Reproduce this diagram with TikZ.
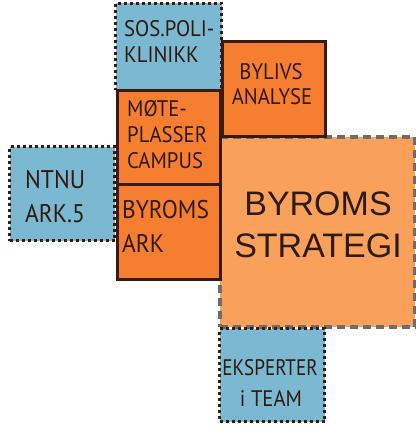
\documentclass[tikz,border=0pt]{standalone}
\usepackage{fontspec}
\setmainfont[FakeStretch=0.92]{PT Sans}
\newfontfamily\bigfont{Liberation Sans}
\definecolor{bluefill}{HTML}{7BB8D1}
\definecolor{orangefill}{HTML}{F57E30}
\definecolor{lightorange}{HTML}{F9A05B}
\definecolor{darkline}{HTML}{3A1A0A}
\definecolor{grayline}{HTML}{6E6B69}
\definecolor{txt}{HTML}{2E1A0E}
\tikzset{
  boxbase/.style={rectangle, inner sep=0pt, anchor=north west},
  bluebox/.style={boxbase, fill=bluefill, draw=darkline, line width=3pt, dash pattern=on 3pt off 3pt},
  orangebox/.style={boxbase, fill=orangefill, draw=darkline, line width=3pt},
  stratbox/.style={boxbase, fill=lightorange, draw=grayline, line width=4pt, dash pattern=on 8pt off 5pt},
  smalltxt/.style={inner sep=0pt, text=txt, font=\fontsize{22.5}{26}\selectfont},
  midtxt/.style={inner sep=0pt, text=txt, font=\fontsize{25.5}{30}\selectfont},
  bigtxt/.style={inner sep=0pt, text=txt, font=\bigfont\fontsize{34}{40}\selectfont},
}
\begin{document}
\begin{tikzpicture}[x=1pt,y=-1pt]
\useasboundingbox (0,0) rectangle (415,425);
% big strategy box
\node[stratbox, minimum width=195pt, minimum height=190pt] (strat) at (218,135) {};
% blue boxes
\node[bluebox, minimum width=106pt, minimum height=87pt] (sos) at (114,2) {};
\node[bluebox, minimum width=105pt, minimum height=94pt] (ntnu) at (8,145) {};
\node[bluebox, minimum width=105pt, minimum height=93pt] (eks) at (218,327) {};
% orange boxes
\node[orangebox, minimum width=103pt, minimum height=95pt] (byliv) at (221,40) {};
\node[orangebox, minimum width=103pt, minimum height=94pt] (mote) at (116,89) {};
\node[orangebox, minimum width=103pt, minimum height=95pt] (ark) at (116,183) {};
% texts
\node[smalltxt, anchor=base west] (sos1) at (124,37) {SOS.POLI-};
\node[smalltxt, anchor=base west] (sos2) at (124,63) {KLINIKK};
\node[smalltxt, anchor=base west] (mote1) at (127,117) {MØTE-};
\node[smalltxt, anchor=base west] (mote2) at (127,142) {PLASSER};
\node[smalltxt, anchor=base west] (mote3) at (127,168) {CAMPUS};
\node[midtxt, anchor=base west] (ark1) at (122,218) {BYROMS};
\node[midtxt, anchor=base west] (ark2) at (122,252) {ARK};
\node[midtxt, anchor=base west] (ntnu1) at (25,188) {NTNU};
\node[midtxt, anchor=base west] (ntnu2) at (25,222) {ARK.5};
\node[smalltxt, anchor=base] (byliv1) at (271,80) {BYLIVS};
\node[smalltxt, anchor=base] (byliv2) at (272,105) {ANALYSE};
\node[smalltxt, anchor=base, font=\fontsize{22.5}{26}\selectfont\addfontfeature{FakeStretch=0.85}] (eks1) at (270,375) {EKSPERTER};
\node[smalltxt, anchor=base] (eks2) at (271,406) {i TEAM};
\node[bigtxt, anchor=base] (strat1) at (318,215) {BYROMS};
\node[bigtxt, anchor=base] (strat2) at (318,257) {STRATEGI};
\end{tikzpicture}
\end{document}
